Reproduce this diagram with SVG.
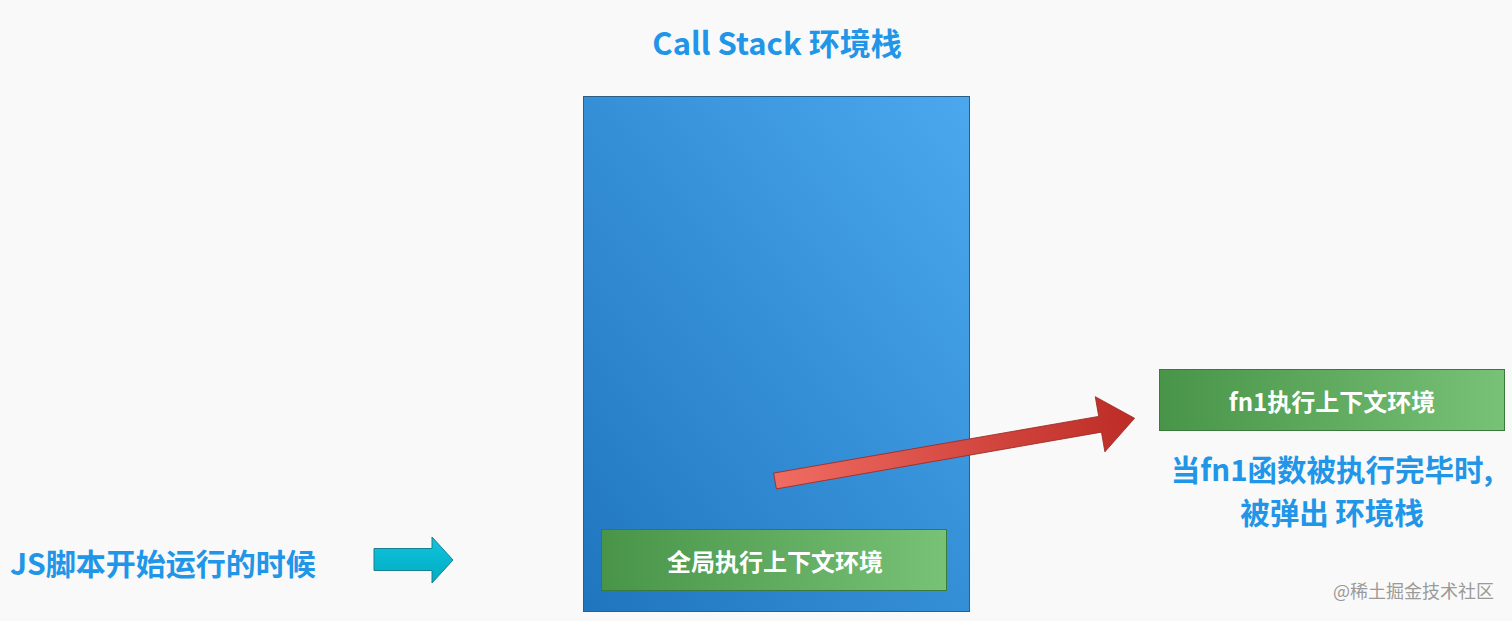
<svg xmlns="http://www.w3.org/2000/svg" width="1512" height="621" viewBox="0 0 1512 621">
<defs>
<linearGradient id="gBlue" x1="0" y1="1" x2="1" y2="0">
<stop offset="0" stop-color="#1f76bf"/>
<stop offset="1" stop-color="#4ba8ee"/>
</linearGradient>
<linearGradient id="gGreen" x1="0" y1="0" x2="1" y2="0">
<stop offset="0" stop-color="#489448"/>
<stop offset="1" stop-color="#78c278"/>
</linearGradient>
<linearGradient id="gRed" x1="0" y1="0" x2="1" y2="0">
<stop offset="0" stop-color="#f06c62"/>
<stop offset="1" stop-color="#bd2c26"/>
</linearGradient>
<linearGradient id="gCyan" x1="0" y1="0" x2="0" y2="1">
<stop offset="0" stop-color="#10c4dc"/>
<stop offset="1" stop-color="#00acc4"/>
</linearGradient>
</defs>
<style>
.blue{fill:#2196e8;font-family:"Noto Sans CJK SC","Liberation Sans",sans-serif;font-weight:bold}
.white{fill:#ffffff;font-family:"Noto Sans CJK SC","Liberation Sans",sans-serif;font-weight:bold;font-size:24px}
.gbox{fill:url(#gGreen);stroke:#3a7a3a;stroke-width:1}
</style>
<rect x="0" y="0" width="1512" height="621" fill="#f9f9f9"/>
<g id="title">
<text class="blue" x="777" y="55" font-size="31" text-anchor="middle">Call Stack 环境栈</text>
</g>
<g id="stack">
<rect x="583.5" y="96.5" width="386" height="515" fill="url(#gBlue)" stroke="#2d5f86" stroke-width="1"/>
</g>
<g id="global">
<rect class="gbox" x="601.5" y="529.5" width="345" height="61"/>
<text class="white" x="775" y="571" text-anchor="middle">全局执行上下文环境</text>
</g>
<g id="fn1">
<rect class="gbox" x="1159.5" y="369.5" width="345" height="61"/>
<text class="white" x="1332" y="411" text-anchor="middle">fn1执行上下文环境</text>
</g>
<g id="start-label">
<text class="blue" x="10" y="575" font-size="30">JS脚本开始运行的时候</text>
</g>
<g id="pop-label">
<text class="blue" x="1332" y="481" font-size="29.5" text-anchor="middle">当fn1函数被执行完毕时,</text>
<text class="blue" x="1332" y="524" font-size="29.5" text-anchor="middle">被弹出 环境栈</text>
</g>
<g id="connectors">
<polygon points="374,548.5 432,548.5 432,537 453,560 432,583 432,570.5 374,570.5" fill="url(#gCyan)" stroke="#1a7f8e" stroke-width="1"/>
<g transform="translate(775,481) rotate(-9.9)">
<polygon points="0,-8 330,-8 330,-28 365,0 330,28 330,8 0,8" fill="url(#gRed)" stroke="#9a2a24" stroke-width="0.8"/>
</g>
</g>
<g id="watermark">
<text x="1333" y="598" font-size="18" fill="#9a9a9a" font-family="Noto Sans CJK SC, Liberation Sans, sans-serif">@稀土掘金技术社区</text>
</g>
</svg>
